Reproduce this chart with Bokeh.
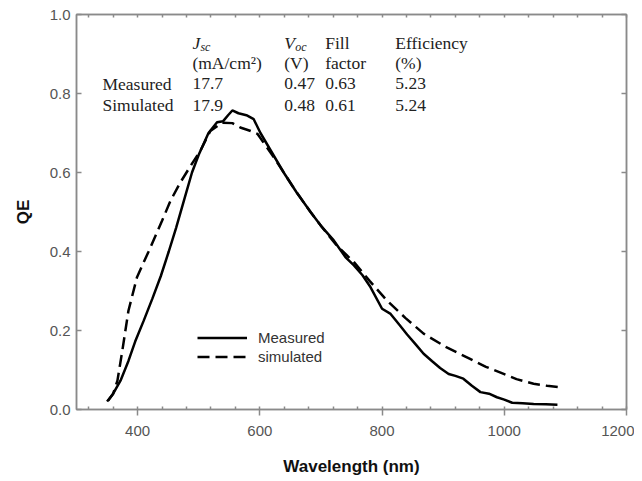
from bokeh.plotting import figure
from bokeh.models import (LinearAxis, SingleIntervalTicker, Range1d, CustomJSTickFormatter,
                          NumeralTickFormatter, Legend, LegendItem)
from bokeh.core.properties import value
from bokeh.embed import file_html
from bokeh.resources import INLINE

# ---- data ----
meas_wl = [350, 360, 372, 385, 396, 410, 424, 438, 451, 463, 476, 489, 500, 516, 530, 540,
           548, 555, 565, 578, 590, 601, 620, 639, 660, 683, 700, 721, 740, 754, 768, 781,
           800, 814, 828, 841, 855, 868, 882, 895, 909, 920, 933, 947, 961, 975, 988, 1000,
           1013, 1030, 1048, 1068, 1087]
meas_qe = [0.02, 0.04, 0.073, 0.123, 0.172, 0.225, 0.28, 0.338, 0.40, 0.46, 0.53, 0.60, 0.645,
           0.70, 0.727, 0.73, 0.745, 0.757, 0.75, 0.745, 0.735, 0.70, 0.65, 0.60, 0.55, 0.50,
           0.465, 0.428, 0.386, 0.365, 0.34, 0.31, 0.255, 0.242, 0.215, 0.19, 0.165, 0.141,
           0.122, 0.105, 0.09, 0.085, 0.078, 0.06, 0.044, 0.04, 0.031, 0.025, 0.017, 0.016,
           0.014, 0.013, 0.012]
sim_wl = [352, 360, 367, 375, 385, 399, 418, 440, 454, 470, 486, 503, 519, 538, 555, 568,
          585, 596, 620, 640, 660, 683, 700, 726, 754, 780, 808, 838, 868, 905, 944, 970,
          999, 1020, 1048, 1070, 1092]
sim_qe = [0.023, 0.04, 0.073, 0.149, 0.25, 0.335, 0.40, 0.478, 0.529, 0.575, 0.615, 0.656,
          0.705, 0.726, 0.725, 0.714, 0.705, 0.698, 0.645, 0.598, 0.55, 0.50, 0.465, 0.415,
          0.373, 0.325, 0.276, 0.232, 0.192, 0.158, 0.128, 0.108, 0.09, 0.077, 0.065, 0.06,
          0.056]

row_names = ["Measured", "Simulated"]
jsc_vals = ["17.7", "17.9"]
voc_vals = ["0.47", "0.48"]
ff_vals = ["0.63", "0.61"]
eff_vals = ["5.23", "5.24"]

x_ticks_interval = 200
y_ticks_interval = 0.2

# ---- layout constants ----
AX = "#8a8a8a"
TXT = "#555555"
SERIF = "Liberation Serif"
SANS = "Liberation Sans"

p = figure(width=634, height=479, output_backend="svg", toolbar_location=None,
           x_range=Range1d(300, 1200), y_range=Range1d(0, 1.0),
           x_axis_location=None, y_axis_location=None,
           min_border_left=76, min_border_right=8, min_border_top=14, min_border_bottom=70)
p.grid.visible = False
p.outline_line_color = AX
p.outline_line_width = 1.5
p.background_fill_color = "white"
p.border_fill_color = "white"

xt = SingleIntervalTicker(interval=x_ticks_interval, num_minor_ticks=5)
yt = SingleIntervalTicker(interval=y_ticks_interval, num_minor_ticks=0)
blank = CustomJSTickFormatter(code="return '';")

def style(ax):
    ax.axis_line_color = AX
    ax.axis_line_width = 1.5
    ax.major_tick_line_color = AX
    ax.minor_tick_line_color = AX
    ax.major_tick_line_width = 1.5
    ax.minor_tick_line_width = 1.5

bottom = LinearAxis(ticker=xt, axis_label="Wavelength (nm)")
style(bottom)
bottom.major_tick_out = 6
bottom.major_tick_in = 0
bottom.minor_tick_in = 3
bottom.minor_tick_out = 0
bottom.major_label_text_font = SANS
bottom.major_label_text_font_size = "15px"
bottom.major_label_text_color = TXT
bottom.major_label_standoff = 10
bottom.axis_label_text_font = SANS
bottom.axis_label_text_font_style = "bold"
bottom.axis_label_text_font_size = "17px"
bottom.axis_label_text_color = "#111111"
bottom.axis_label_standoff = 18
p.add_layout(bottom, "below")

top = LinearAxis(ticker=xt, formatter=blank)
style(top)
top.major_tick_out = 0
top.major_tick_in = 0
top.minor_tick_in = 3
top.minor_tick_out = 0
top.major_label_standoff = 0
p.add_layout(top, "above")

left = LinearAxis(ticker=yt, axis_label="QE", formatter=NumeralTickFormatter(format="0.0"))
style(left)
left.major_tick_out = 0
left.major_tick_in = 5
left.major_label_text_font = SANS
left.major_label_text_font_size = "15px"
left.major_label_text_color = TXT
left.major_label_standoff = 6
left.axis_label_text_font = SANS
left.axis_label_text_font_style = "bold"
left.axis_label_text_font_size = "17px"
left.axis_label_text_color = "#111111"
left.axis_label_standoff = 14
p.add_layout(left, "left")

right = LinearAxis(ticker=yt, formatter=blank)
style(right)
right.major_tick_out = 0
right.major_tick_in = 5
right.major_label_standoff = 0
p.add_layout(right, "right")

# ---- curves ----
r_meas = p.line(meas_wl, meas_qe, line_color="black", line_width=2.5)
r_sim = p.line(sim_wl, sim_qe, line_color="black", line_width=2.5, line_dash="12 6")

legend = Legend(items=[LegendItem(label="Measured", renderers=[r_meas]),
                       LegendItem(label="simulated", renderers=[r_sim])],
                location=(121, 43), orientation="vertical")
legend.border_line_color = None
legend.background_fill_alpha = 0
legend.label_text_font = SANS
legend.label_text_font_size = "15px"
legend.label_text_color = "#333333"
legend.glyph_width = 50
legend.glyph_height = 19
legend.label_height = 19
legend.spacing = 0
legend.padding = 0
legend.margin = 0
legend.label_standoff = 11
p.add_layout(legend, "center")

# ---- table ----
col_x = [342.5, 489.7, 640, 707, 821.6]
row_y = [0.929, 0.878, 0.825, 0.770]
TCOL = "#222222"
FS = "17.5px"

def txt(xs, ys, texts, style="normal", size=FS, xo=0, yo=0):
    p.text(x=xs, y=ys, text=texts, text_font=value(SERIF), text_font_size=size,
           text_font_style=style, text_color=TCOL, text_baseline="middle",
           text_align="left", x_offset=xo, y_offset=yo)

# headers
txt([col_x[1]], [row_y[0]], ["J"], style="italic")
txt([col_x[1]], [row_y[0]], ["sc"], style="italic", size="12px", xo=8, yo=4)
txt([col_x[2]], [row_y[0]], ["V"], style="italic")
txt([col_x[2]], [row_y[0]], ["oc"], style="italic", size="12px", xo=11, yo=4)
txt([col_x[3], col_x[4]], [row_y[0], row_y[0]], ["Fill", "Efficiency"])
txt(col_x[1:], [row_y[1]] * 4, ["(mA/cm\u00b2)", "(V)", "factor", "(%)"])
# rows
for i, name in enumerate(row_names):
    yy = row_y[2 + i]
    txt(col_x, [yy] * 5, [name, jsc_vals[i], voc_vals[i], ff_vals[i], eff_vals[i]])

open("out.html", "w").write(file_html(p, INLINE))
